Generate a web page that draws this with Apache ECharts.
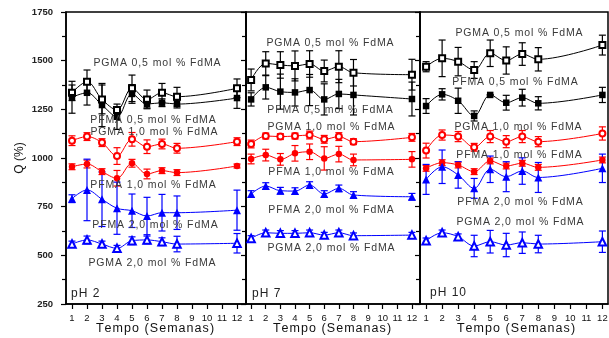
<!DOCTYPE html>
<html lang="pt">
<head>
<meta charset="UTF-8">
<title>Q (%) - Tempo (Semanas)</title>
<script src="https://cdn.jsdelivr.net/npm/echarts@6/dist/echarts.min.js"></script>
<style>
  html, body { margin: 0; padding: 0; background: #fff; }
  #chart { width: 609px; height: 338px; }
</style>
</head>
<body>
<div id="chart"></div>
<script>
// semanas medidas
var weeks = [1, 2, 3, 4, 5, 6, 7, 8, 12];
var xTickValues = [1, 2, 3, 4, 5, 6, 7, 8, 9, 10, 11, 12];
var panelNames = ['pH 2', 'pH 7', 'pH 10'];
var xTitle = 'Tempo (Semanas)';
var seriesNames = [
    'PGMA 0,5 mol % FdMA', 'PFMA 0,5 mol % FdMA',
    'PGMA 1,0 mol % FdMA', 'PFMA 1,0 mol % FdMA',
    'PFMA 2,0 mol % FdMA', 'PGMA 2,0 mol % FdMA'
];

// pH 2
var ph2_pgma05 = [1335, 1392, 1301, 1247, 1358, 1301, 1335, 1315, 1358];
var ph2_pfma05 = [1312, 1335, 1272, 1212, 1329, 1277, 1284, 1277, 1308];
var ph2_pgma10 = [1089, 1110, 1079, 1010, 1096, 1058, 1072, 1050, 1084];
var ph2_pfma10 = [955, 969, 930, 896, 973, 918, 935, 925, 959];
var ph2_pfma20 = [791, 836, 788, 742, 729, 702, 719, 719, 732];
var ph2_pgma20 = [558, 579, 558, 536, 575, 579, 570, 558, 562];
var ph2_pgma05_err = [40, 60, 74, 15, 68, 48, 48, 48, 48];
var ph2_pfma05_err = [82, 63, 111, 65, 48, 20, 20, 20, 53];
var ph2_pgma10_err = [25, 20, 20, 43, 35, 35, 25, 25, 20];
var ph2_pfma10_err = [15, 20, 15, 40, 20, 25, 15, 15, 10];
var ph2_pfma20_err = [20, 158, 140, 134, 86, 96, 94, 86, 103];
var ph2_pgma20_err = [15, 20, 15, 15, 20, 20, 20, 40, 50];

// pH 7
var ph7_pgma05 = [1401, 1486, 1478, 1473, 1483, 1447, 1469, 1438, 1428];
var ph7_pfma05 = [1301, 1363, 1341, 1337, 1349, 1301, 1329, 1324, 1303];
var ph7_pgma10 = [1072, 1113, 1110, 1113, 1118, 1096, 1110, 1084, 1106];
var ph7_pfma10 = [995, 1015, 993, 1024, 1032, 998, 1020, 990, 993];
var ph7_pfma20 = [815, 856, 832, 830, 861, 815, 844, 810, 801];
var ph7_pgma20 = [587, 616, 613, 613, 616, 604, 616, 601, 604];
var ph7_pgma05_err = [56, 60, 68, 77, 68, 56, 82, 68, 79];
var ph7_pfma05_err = [34, 60, 90, 70, 80, 80, 75, 103, 87];
var ph7_pgma10_err = [20, 15, 15, 15, 20, 20, 20, 15, 20];
var ph7_pfma10_err = [25, 30, 30, 40, 40, 60, 40, 30, 40];
var ph7_pfma20_err = [17, 17, 17, 17, 17, 17, 17, 17, 17];
var ph7_pgma20_err = [14, 14, 14, 14, 14, 14, 14, 14, 14];

// pH 10
var ph10_pgma05 = [1469, 1512, 1495, 1452, 1538, 1501, 1534, 1507, 1580];
var ph10_pfma05 = [1267, 1327, 1294, 1216, 1324, 1284, 1310, 1281, 1324];
var ph10_pgma10 = [1038, 1118, 1110, 1055, 1110, 1084, 1110, 1084, 1126];
var ph10_pfma10 = [947, 976, 964, 930, 985, 959, 973, 952, 990];
var ph10_pfma20 = [890, 955, 913, 844, 942, 904, 933, 900, 947];
var ph10_pgma20 = [575, 616, 596, 548, 570, 553, 565, 558, 570];
var ph10_pgma05_err = [26, 94, 73, 43, 68, 70, 58, 60, 51];
var ph10_pfma05_err = [38, 29, 65, 26, 0, 38, 43, 34, 39];
var ph10_pgma10_err = [38, 26, 26, 20, 31, 31, 31, 26, 34];
var ph10_pfma10_err = [15, 15, 15, 15, 15, 15, 15, 15, 15];
var ph10_pfma20_err = [77, 86, 68, 51, 68, 77, 68, 77, 73];
var ph10_pgma20_err = [14, 14, 14, 55, 58, 60, 55, 45, 55];

var panelValues = [
    [ph2_pgma05, ph2_pfma05, ph2_pgma10, ph2_pfma10, ph2_pfma20, ph2_pgma20],
    [ph7_pgma05, ph7_pfma05, ph7_pgma10, ph7_pfma10, ph7_pfma20, ph7_pgma20],
    [ph10_pgma05, ph10_pfma05, ph10_pgma10, ph10_pfma10, ph10_pfma20, ph10_pgma20]
];
var panelErrors = [
    [ph2_pgma05_err, ph2_pfma05_err, ph2_pgma10_err, ph2_pfma10_err, ph2_pfma20_err, ph2_pgma20_err],
    [ph7_pgma05_err, ph7_pfma05_err, ph7_pgma10_err, ph7_pfma10_err, ph7_pfma20_err, ph7_pgma20_err],
    [ph10_pgma05_err, ph10_pfma05_err, ph10_pgma10_err, ph10_pfma10_err, ph10_pfma20_err, ph10_pgma20_err]
];

// estilos
var marks = [
    { color: '#000', symbol: 'emptyRect', size: 6 },
    { color: '#000', symbol: 'rect', size: 6.5 },
    { color: '#ff0000', symbol: 'emptyCircle', size: 6 },
    { color: '#ff0000', symbol: 'circle', size: 6.5 },
    { color: '#0000ff', symbol: 'triangle', size: 8 },
    { color: '#0000ff', symbol: 'emptyTriangle', size: 7.5 }
];
var grids = [
    { left: 66, top: 12, width: 180, height: 292 },
    { left: 246, top: 12, width: 174, height: 292 },
    { left: 420, top: 12, width: 188, height: 292 }
];
var xRanges = [[0.6, 12.6], [0.65, 12.55], [0.62, 12.35]];
// posições das legendas no quadro [x centro, y centro]
var labelPos = [
    [[157, 63], [153, 120], [154, 132], [153, 185], [155, 225], [152, 263]],
    [[330, 43], [330, 110], [331, 127], [331, 172], [331, 210], [331, 248]],
    [[519, 33], [515, 82], [518, 127], [519, 155], [520, 202], [520, 222]]
];
var phPos = [[71, 294], [252, 294], [430, 293]];
var xTitlePos = [[155, 329], [332, 329], [516, 329]];

var font = "'Liberation Sans', Arial, sans-serif";
function spaced(s) {
    return s.split('').join('\u200A');
}

function errRender(params, api) {
    var x = api.value(0), y = api.value(1), e = api.value(2);
    var top = api.coord([x, y + e]);
    var bot = api.coord([x, y - e]);
    var c = api.visual('color');
    var cap = 3.5;
    var st = { stroke: c, lineWidth: 1.2 };
    return {
        type: 'group',
        children: [
            { type: 'line', shape: { x1: top[0], y1: top[1], x2: bot[0], y2: bot[1] }, style: st },
            { type: 'line', shape: { x1: top[0] - cap, y1: top[1], x2: top[0] + cap, y2: top[1] }, style: st },
            { type: 'line', shape: { x1: bot[0] - cap, y1: bot[1], x2: bot[0] + cap, y2: bot[1] }, style: st }
        ]
    };
}

var xAxes = [], yAxes = [], series = [], graphics = [];
for (var p = 0; p < 3; p++) {
    xAxes.push({
        type: 'value', gridIndex: p, min: xRanges[p][0], max: xRanges[p][1],
        axisLine: { lineStyle: { color: '#000', width: 1.5 } },
        axisTick: { customValues: xTickValues, length: 5, lineStyle: { color: '#000', width: 1.2 } },
        axisLabel: { customValues: xTickValues, fontSize: 9.5, color: '#111', margin: 9, fontFamily: font },
        splitLine: { show: false }
    });
    yAxes.push({
        type: 'value', gridIndex: p, min: 250, max: 1750, interval: 250,
        name: p === 0 ? 'Q (%)' : '', nameLocation: 'middle', nameGap: 40,
        nameTextStyle: { fontSize: 12, color: '#111', fontFamily: font },
        axisLine: { show: true, lineStyle: { color: '#000', width: 1.5 } },
        axisTick: { length: 5, lineStyle: { color: '#000', width: 1.2 } },
        minorTick: { show: true, splitNumber: 2, length: 4, lineStyle: { color: '#000', width: 1.2 } },
        axisLabel: {
            show: p === 0, fontSize: 9.5, fontWeight: 'bold', color: '#222', margin: 13, fontFamily: font,
            formatter: function (v) { return String(v); }
        },
        splitLine: { show: false }
    });
    for (var s = 0; s < 6; s++) {
        var vals = panelValues[p][s], errs = panelErrors[p][s];
        series.push({
            type: 'custom', xAxisIndex: p, yAxisIndex: p, z: 2,
            itemStyle: { color: marks[s].color },
            renderItem: errRender,
            data: weeks.map(function (w, k) { return [w, vals[k], errs[k]]; }),
            silent: true
        });
        series.push({
            type: 'line', name: seriesNames[s] + ' ' + panelNames[p],
            xAxisIndex: p, yAxisIndex: p, z: 3,
            smooth: 0.35,
            symbol: marks[s].symbol, symbolSize: marks[s].size,
            itemStyle: { color: marks[s].color, borderWidth: 1.1 },
            lineStyle: { color: marks[s].color, width: 1 },
            data: weeks.map(function (w, k) { return [w, vals[k]]; }),
            animation: false
        });
        graphics.push({
            type: 'text', x: labelPos[p][s][0], y: labelPos[p][s][1], z: 10,
            style: {
                text: spaced(seriesNames[s]), fill: '#3a3a3a', font: '10.5px ' + font,
                textAlign: 'center', textVerticalAlign: 'middle'
            }
        });
    }
    graphics.push({
        type: 'text', x: phPos[p][0], y: phPos[p][1], z: 10,
        style: {
            text: spaced(panelNames[p]), fill: '#222', font: '12px ' + font,
            textAlign: 'left', textVerticalAlign: 'middle'
        }
    });
    graphics.push({
        type: 'text', x: xTitlePos[p][0], y: xTitlePos[p][1], z: 10,
        style: {
            text: spaced(xTitle), fill: '#111', font: '12.5px ' + font,
            textAlign: 'center', textVerticalAlign: 'middle'
        }
    });
}

var option = {
    animation: false,
    backgroundColor: '#fff',
    grid: grids.map(function (g) {
        return Object.assign({
            show: true, borderColor: '#000', borderWidth: 1.5, backgroundColor: 'transparent',
            containLabel: false, outerBoundsMode: 'none'
        }, g);
    }),
    xAxis: xAxes,
    yAxis: yAxes,
    series: series,
    graphic: graphics
};

var myChart = echarts.init(document.getElementById('chart'));
myChart.setOption(option);
</script>
</body>
</html>
